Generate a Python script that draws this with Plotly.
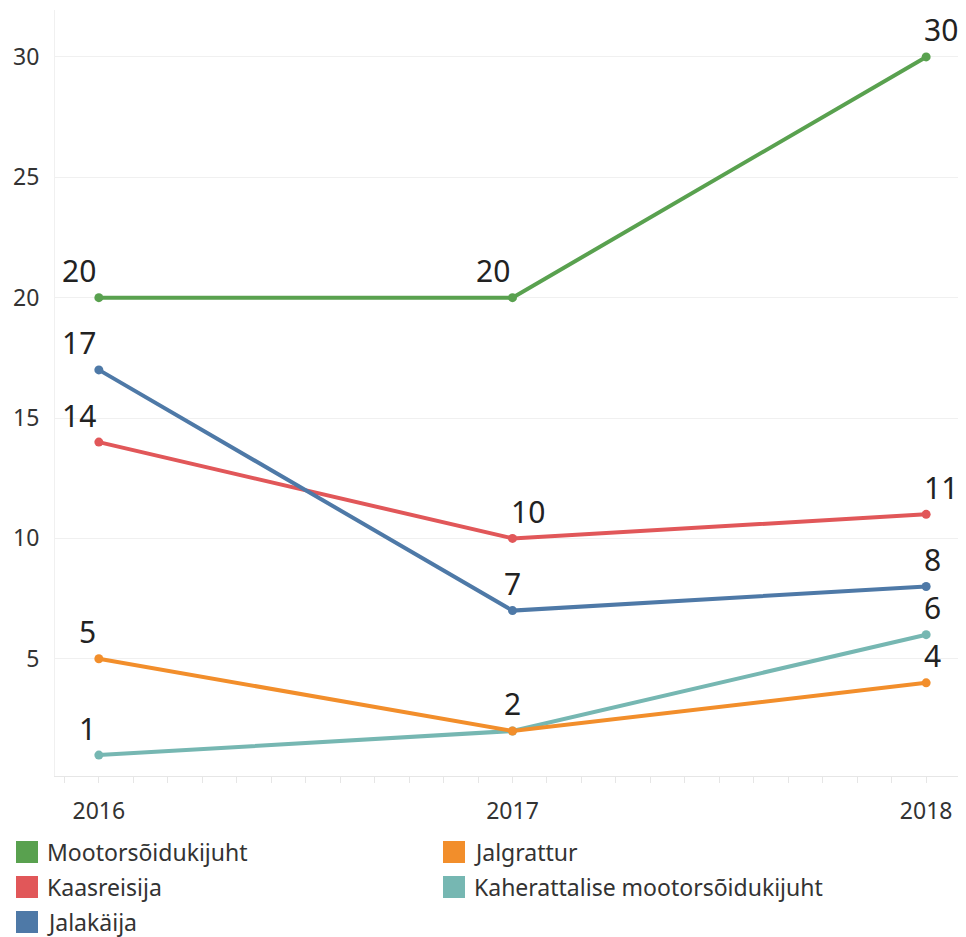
import plotly.graph_objects as go

# data
years = [2016, 2017, 2018]
mootor = [20, 20, 30]
kaasreisija = [14, 10, 11]
jalakaija = [17, 7, 8]
jalgrattur = [5, 2, 4]
kaherattaline = [1, 2, 6]

names = ["Mootorsõidukijuht", "Kaasreisija", "Jalakäija", "Jalgrattur",
         "Kaherattalise mootorsõidukijuht"]
colors = ["#59a14f", "#e15759", "#4e79a7", "#f28e2b", "#76b7b2"]
series = [mootor, kaasreisija, jalakaija, jalgrattur, kaherattaline]

# which side of the point the value label sits on (tableau style)
label_anchor = [
    ["right", "right", "left"],
    ["right", "left", "left"],
    ["right", "center", "left"],
    ["right", "center", "left"],
    ["right", None, "left"],   # teal 2017 label hidden under the orange one
]

FONT = "Noto Sans"
# page has an 8px body margin (and a scrollbar eats the right side),
# so the figure is a bit smaller and shifted
OFF = 8
W, H = 950, 937 - OFF
ML, MR, MT = 55 - OFF, 0, 10 - OFF
MB = H - (776 - OFF)

fig = go.Figure()

# draw order: teal under orange
draw_order = [0, 1, 2, 4, 3]
for i in draw_order:
    fig.add_trace(go.Scatter(
        x=years, y=series[i], name=names[i],
        mode="lines+markers",
        line=dict(color=colors[i], width=4),
        marker=dict(color=colors[i], size=9),
        cliponaxis=False,
        showlegend=False,
    ))

# value labels
for i in range(len(series)):
    for j, v in enumerate(series[i]):
        anc = label_anchor[i][j]
        if anc is None:
            continue
        fig.add_annotation(x=years[j], y=v, text=str(v), showarrow=False,
                           xanchor=anc, yanchor="middle",
                           xshift={"right": -1, "left": -4, "center": 0}[anc],
                           yshift=27,
                           font=dict(family=FONT, size=30, color="#222"))

fig.update_xaxes(
    range=[2015.894, 2018.077],
    tickvals=years, ticktext=[str(y) for y in years],
    showgrid=False, zeroline=False,
    showline=True, linecolor="#e6e6e6", linewidth=1,
    ticks="outside", ticklen=6, tickcolor="#e6e6e6",
    minor=dict(dtick=1/12, ticks="outside", ticklen=6, tickcolor="#e6e6e6"),
    tickfont=dict(family=FONT, size=23, color="#333"),
    ticklabelstandoff=8,
)
fig.update_yaxes(
    range=[0.13, 31.95],
    tickvals=[5, 10, 15, 20, 25, 30],
    showgrid=True, gridcolor="#f0f0f0", gridwidth=1,
    zeroline=False,
    showline=True, linecolor="#f0f0f0", linewidth=1,
    ticks="", tickfont=dict(family=FONT, size=23, color="#333"),
    ticklabelstandoff=10,
)

# the 0 tick sits just under the axis range, tableau shows it nudged up
fig.add_annotation(x=0, xref="paper", xanchor="right", xshift=-12,
                   y=0, yref="y", yshift=19, text="0", showarrow=False,
                   font=dict(family=FONT, size=23, color="#333"))

# legend drawn by hand so the swatches are big squares like tableau
plot_w = W - ML - MR
plot_h = H - MT - MB
def px_x(px):
    return (px - OFF - ML) / plot_w
def px_y(py):
    return (H - MB - (py - OFF)) / plot_h

legend_slots = [(16, 852), (16, 887), (16, 922), (443, 852), (443, 887)]
for i, (lx, ly) in enumerate(legend_slots):
    fig.add_shape(type="rect", xref="paper", yref="paper",
                  x0=px_x(lx), x1=px_x(lx + 22), y0=px_y(ly + 11), y1=px_y(ly - 11),
                  fillcolor=colors[i], line=dict(width=0))
    fig.add_annotation(xref="paper", yref="paper", x=px_x(lx + 29), y=px_y(ly),
                       xanchor="left", yanchor="middle", text=names[i],
                       showarrow=False, font=dict(family=FONT, size=23, color="#333"))

fig.update_layout(
    width=W, height=H,
    margin=dict(l=ML, r=MR, t=MT, b=MB),
    plot_bgcolor="white", paper_bgcolor="white",
    font=dict(family=FONT, color="#333"),
)

fig.write_html("out.html")
